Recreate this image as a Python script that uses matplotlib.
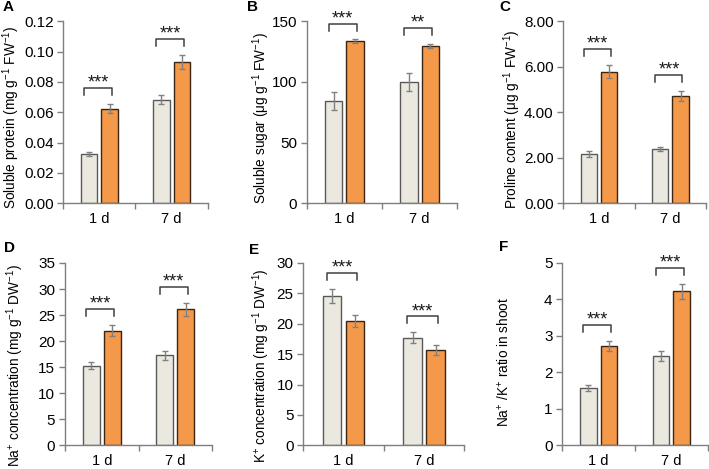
import numpy as np
import matplotlib
matplotlib.use('Agg')
import matplotlib.pyplot as plt
from matplotlib.ticker import FormatStrFormatter, FixedLocator

plt.rcParams['font.family'] = ['Liberation Sans', 'DejaVu Sans']
plt.rcParams['mathtext.fontset'] = 'custom'
plt.rcParams['mathtext.rm'] = 'Liberation Sans'
plt.rcParams['mathtext.it'] = 'Liberation Sans:italic'
plt.rcParams['mathtext.bf'] = 'Liberation Sans:bold'

# data (control = grey, salt = orange)
days = ['1 d', '7 d']

protein_ctrl = [0.0325, 0.0684]
protein_ctrl_err = [0.0016, 0.0030]
protein_salt = [0.0625, 0.0934]
protein_salt_err = [0.0030, 0.0046]

sugar_ctrl = [84.4, 100.0]
sugar_ctrl_err = [7.7, 7.5]
sugar_salt = [133.5, 129.9]
sugar_salt_err = [1.6, 1.6]

proline_ctrl = [2.16, 2.38]
proline_ctrl_err = [0.12, 0.10]
proline_salt = [5.79, 4.71]
proline_salt_err = [0.30, 0.23]

na_ctrl = [15.26, 17.3]
na_ctrl_err = [0.70, 0.84]
na_salt = [22.03, 26.1]
na_salt_err = [1.1, 1.2]

k_ctrl = [24.6, 17.7]
k_ctrl_err = [1.2, 0.9]
k_salt = [20.4, 15.66]
k_salt_err = [1.0, 0.8]

ratio_ctrl = [1.565, 2.45]
ratio_ctrl_err = [0.08, 0.14]
ratio_salt = [2.73, 4.22]
ratio_salt_err = [0.14, 0.21]

stars_A = ['***', '***']
stars_B = ['***', '**']
stars_C = ['***', '***']
stars_D = ['***', '***']
stars_E = ['***', '***']
stars_F = ['***', '***']

GREY = '#ebe9df'
ORANGE = '#f4994a'
AXIS = '#7f7f7f'

W, H = 709, 469
fig = plt.figure(figsize=(W / 100, H / 100), dpi=100)


def px_axes(left, top, right, bottom):
    return fig.add_axes([left / W, 1 - bottom / H, (right - left) / W, (bottom - top) / H])


def panel(ax, ctrl, ctrl_err, salt, salt_err, stars, ymax, step, fmt, ylabel, label_x, label_y):
    x = np.arange(len(days))
    w = 0.23
    off = 0.143
    ax.bar(x - off, ctrl, w, color=GREY, edgecolor='#595959', linewidth=1.0, zorder=2)
    ax.bar(x + off, salt, w, color=ORANGE, edgecolor='#3a2412', linewidth=1.0, zorder=2)
    ax.errorbar(x - off, ctrl, yerr=ctrl_err, fmt='none', ecolor='#808080',
                elinewidth=1.0, capsize=2.2, capthick=1.0, zorder=3)
    ax.errorbar(x + off, salt, yerr=salt_err, fmt='none', ecolor='#808080',
                elinewidth=1.0, capsize=2.2, capthick=1.0, zorder=3)

    # significance brackets
    drop = 0.038 * ymax
    for i in range(len(days)):
        top = max(ctrl[i] + ctrl_err[i], salt[i] + salt_err[i])
        yb = top + 0.087 * ymax
        x0, x1 = i - 0.21, i + 0.17
        ax.plot([x0, x0, x1, x1], [yb - drop, yb, yb, yb - drop], color='#404040',
                lw=1.1, clip_on=False, zorder=4)
        ax.annotate(stars[i], ((x0 + x1) / 2, yb), xytext=(0, 0.3), textcoords='offset points',
                    ha='center', va='baseline', fontsize=13, color='#1a1a1a')

    ax.set_xlim(-0.5, 1.5)
    ax.set_ylim(0, ymax)
    ax.set_yticks(np.arange(0, ymax + step / 2, step))
    ax.yaxis.set_major_formatter(FormatStrFormatter(fmt))
    ax.set_xticks(x)
    ax.set_xticklabels(days, fontsize=10.5)
    ax.xaxis.set_minor_locator(FixedLocator([-0.5, 0.5, 1.5]))
    ax.tick_params(axis='x', which='major', length=0, pad=6)
    ax.tick_params(axis='x', which='minor', length=4, color=AXIS, width=1.0)
    ax.tick_params(axis='y', length=4, color=AXIS, width=1.0, labelsize=11, pad=3)
    for s in ['top', 'right']:
        ax.spines[s].set_visible(False)
    for s in ['left', 'bottom']:
        ax.spines[s].set_color(AXIS)
        ax.spines[s].set_linewidth(1.0)
    ax.set_ylabel(ylabel, fontsize=9.8)
    ax.yaxis.label.set_va('center')
    ax.yaxis.set_label_coords(label_x, label_y)


axA = px_axes(63.3, 21.4, 207.7, 203.2)
panel(axA, protein_ctrl, protein_ctrl_err, protein_salt, protein_salt_err, stars_A,
      0.12, 0.02, '%.2f', r'Soluble protein (mg g$^{-1}$ FW$^{-1}$)', -52.0 / 144.4, 0.47)

axB = px_axes(306.7, 21.4, 457.3, 203.2)
panel(axB, sugar_ctrl, sugar_ctrl_err, sugar_salt, sugar_salt_err, stars_B,
      150, 50, '%d', r'Soluble sugar (μg g$^{-1}$ FW$^{-1}$)', -45.7 / 150.6, 0.47)

axC = px_axes(563.3, 21.4, 706.0, 203.2)
panel(axC, proline_ctrl, proline_ctrl_err, proline_salt, proline_salt_err, stars_C,
      8, 2, '%.2f', r'Proline content (μg g$^{-1}$ FW$^{-1}$)', -50.8 / 142.7, 0.46)

axD = px_axes(65.0, 263.0, 212.0, 445.3)
panel(axD, na_ctrl, na_ctrl_err, na_salt, na_salt_err, stars_D,
      35, 5, '%d', r'Na$^{+}$ concentration (mg g$^{-1}$ DW$^{-1}$)', -49.7 / 147.0, 0.435)

axE = px_axes(303.3, 263.0, 464.3, 445.3)
panel(axE, k_ctrl, k_ctrl_err, k_salt, k_salt_err, stars_E,
      30, 5, '%d', r'K$^{+}$ concentration (mg g$^{-1}$ DW$^{-1}$)', -41.6 / 161.0, 0.435)

axF = px_axes(562.3, 263.0, 707.7, 445.3)
panel(axF, ratio_ctrl, ratio_ctrl_err, ratio_salt, ratio_salt_err, stars_F,
      5, 1, '%d', r'Na$^{+}$ /K$^{+}$ ratio in shoot', -58.5 / 145.4, 0.455)

for letter, lx, ly in [('A', 3, 0), ('B', 247, 0), ('C', 499, 0),
                       ('D', 4, 241), ('E', 249, 243), ('F', 499, 240)]:
    fig.text(lx / W, 1 - ly / H, letter, fontsize=11, fontweight='bold', ha='left', va='top')

fig.savefig('out.png', dpi=100)
